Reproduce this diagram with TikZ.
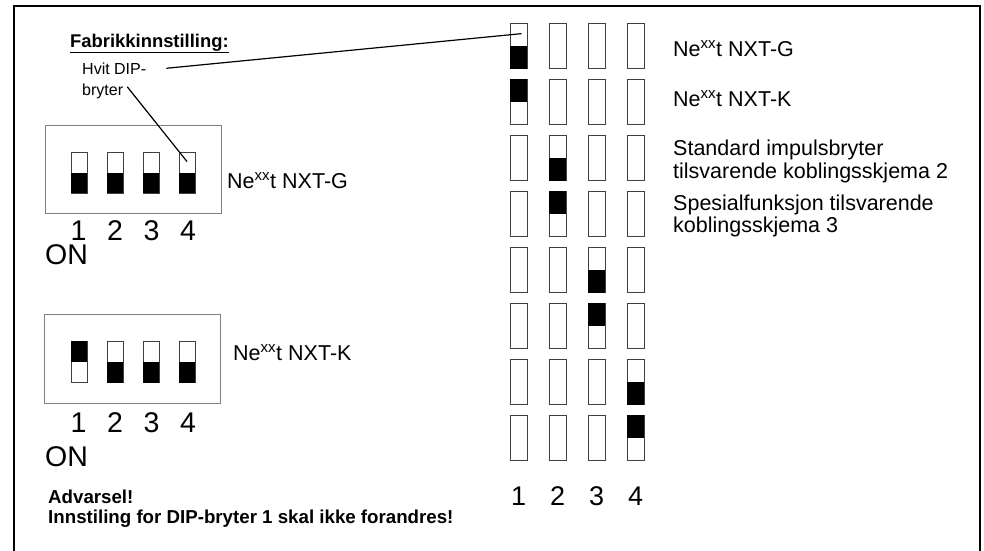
\documentclass[tikz,border=0pt]{standalone}
\usepackage{fontspec}
\setmainfont{Liberation Sans}
\begin{document}
\begin{tikzpicture}[
    x=1pt, y=-1pt,
    sw/.style={draw=black!75, line width=0.9pt, rectangle, minimum width=17pt, minimum height=45pt, inner sep=0pt},
    swl/.style={sw, minimum width=16pt, minimum height=41pt},
    dipbox/.style={draw=black!50, line width=0.8pt, rectangle, minimum width=176pt, minimum height=88pt, inner sep=0pt},
    lbl/.style={anchor=base west, inner sep=0pt, font=\fontsize{21.5}{25}\selectfont},
    big/.style={anchor=base, inner sep=0pt, font=\fontsize{28.5}{32}\selectfont},
    warn/.style={anchor=base west, inner sep=0pt, font=\bfseries\fontsize{18.7}{22}\selectfont},
    lead/.style={line width=1.2pt}
  ]
  \useasboundingbox (0,0) rectangle (984,550);
  % Rahmen
  \draw[line width=2pt] (14,560) -- (14,6) -- (980,6) -- (980,560);

  % Tabelle rechts
  \foreach \row in {1,...,8} {
    \foreach \col in {1,...,4} {
      \node[sw] (r\row c\col) at ({479.5+39*\col}, {-10.5+56.1*\row}) {};
    }
  }
  \foreach \row/\col in {1/1, 3/2, 5/3, 7/4}
    \fill (r\row c\col.west) rectangle (r\row c\col.south east);
  \foreach \row/\col in {2/1, 4/2, 6/3, 8/4}
    \fill (r\row c\col.north west) rectangle (r\row c\col.east);
  \foreach \col in {1,...,4}
    \node[big, font=\fontsize{27}{30}\selectfont] (rn\col) at ({479.5+39*\col}, 505) {\col};

  % Texte rechts
  \node[lbl] (lblG) at (673,56) {Ne\textsuperscript{xx}t NXT-G};
  \node[lbl] (lblK) at (673,106) {Ne\textsuperscript{xx}t NXT-K};
  \node[lbl] (lblStd) at (673,155) {Standard impulsbryter};
  \node[lbl] (lblStdb) at (673,178) {tilsvarende koblingsskjema 2};
  \node[lbl] (lblSpes) at (673,210) {Spesialfunksjon tilsvarende};
  \node[lbl] (lblSpesb) at (673,232) {koblingsskjema 3};

  % DIP-Schalter NXT-G
  \node[dipbox] (boxg) at (133,169) {};
  \foreach \col in {1,...,4} {
    \node[swl] (g\col) at ({43+36*\col}, 172.5) {};
    \fill (g\col.west) rectangle (g\col.south east);
    \node[big] (gn\col) at ({42+36.5*\col}, 240) {\col};
  }
  \node[big, anchor=base west] (gon) at (45,264) {ON};
  \node[lbl] (lblgl) at (227,188) {Ne\textsuperscript{xx}t NXT-G};

  % DIP-Schalter NXT-K
  \node[dipbox, minimum height=89pt] (boxk) at (132.5,358.5) {};
  \foreach \col in {1,...,4}
    \node[swl] (k\col) at ({43+36*\col}, 362) {};
  \fill (k1.north west) rectangle (k1.east);
  \foreach \col in {2,3,4}
    \fill (k\col.west) rectangle (k\col.south east);
  \foreach \col in {1,...,4}
    \node[big] (kn\col) at ({42+36.5*\col}, 432) {\col};
  \node[big, anchor=base west] (kon) at (45,466) {ON};
  \node[lbl] (lblkl) at (233,360) {Ne\textsuperscript{xx}t NXT-K};

  % Werkseinstellung
  \node[warn, font=\bfseries\fontsize{18.4}{20}\selectfont] (fab) at (70,47) {\underline{Fabrikkinnstilling:}};
  \node[lbl, font=\fontsize{16}{20}\selectfont] (hvit) at (82,74) {Hvit DIP-};
  \node[lbl, font=\fontsize{16}{20}\selectfont] (bryter) at (82,95) {bryter};
  \draw[lead] ([xshift=20pt]hvit.east) -- ([shift={(3,11)}]r1c1.north);
  \draw[lead] ([shift={(4,-4)}]bryter.east) -- ([shift={(0,10)}]g4.north);

  % Warnung
  \node[warn] (adv) at (48,503) {Advarsel!};
  \node[warn] (adv2) at (48,523) {Innstiling for DIP-bryter 1 skal ikke forandres!};
\end{tikzpicture}
\end{document}
